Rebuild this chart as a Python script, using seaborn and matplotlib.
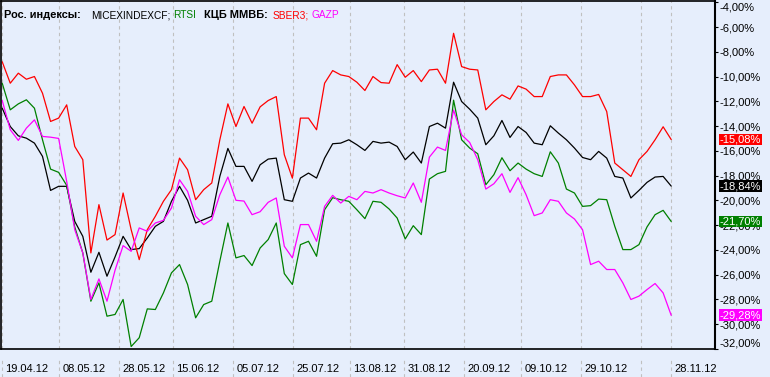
import numpy as np
import pandas as pd
import matplotlib
matplotlib.use("Agg")
import matplotlib.pyplot as plt
import matplotlib.transforms as mtransforms
import seaborn as sns

# daily % change since 19.04.12
start_date = "2012-04-19"
end_date = "2012-11-28"

micex = [-12.55, -14.03, -14.78, -14.97, -15.37, -16.44, -19.19, -18.86, -18.86, -21.69,
         -22.90, -25.80, -24.19, -26.12, -24.56, -22.90, -23.97, -23.89, -23.03, -22.09,
         -21.69, -20.07, -18.86, -19.99, -21.82, -21.55, -21.28, -18.06, -15.80, -17.25,
         -17.25, -18.46, -17.12, -16.66, -16.58, -19.94, -20.07, -18.19, -17.79, -18.19,
         -16.58, -15.42, -15.37, -15.10, -15.50, -15.96, -15.23, -15.37, -15.29, -15.64,
         -16.71, -16.09, -16.98, -14.03, -13.76, -14.16, -10.45, -12.01, -12.63, -13.35,
         -15.50, -14.78, -13.54, -14.91, -14.03, -14.51, -15.37, -15.50, -13.97, -14.56,
         -15.10, -15.77, -16.53, -16.71, -16.04, -16.58, -18.06, -18.19, -19.80, -19.19,
         -18.54, -18.11, -18.06, -18.84]

rtsi = [-10.53, -12.68, -12.20, -11.87, -12.55, -15.10, -17.47, -17.73, -18.78, -22.14,
        -24.24, -28.14, -26.66, -29.35, -29.21, -28.00, -31.80, -31.09, -28.76, -28.81,
        -27.47, -25.85, -25.18, -26.79, -29.48, -28.41, -28.14, -24.91, -21.82, -24.64,
        -24.45, -25.26, -23.84, -23.16, -21.82, -25.91, -26.79, -23.57, -23.30, -24.51,
        -20.75, -19.78, -19.94, -20.07, -20.75, -21.47, -20.07, -20.15, -20.69, -21.42,
        -23.11, -22.04, -22.76, -18.27, -17.84, -17.65, -11.90, -15.10, -15.77, -16.23,
        -18.73, -17.92, -16.55, -17.60, -16.98, -17.47, -17.84, -18.06, -16.07, -16.98,
        -19.08, -19.40, -20.48, -20.42, -19.89, -19.94, -22.09, -23.97, -23.97, -23.57,
        -22.14, -21.15, -20.80, -21.70]

sber = [-8.80, -10.53, -9.72, -10.21, -9.99, -11.34, -13.62, -13.35, -12.28, -15.64,
        -16.71, -24.24, -20.34, -23.20, -22.76, -19.40, -22.36, -24.78, -22.36, -21.28,
        -20.07, -19.13, -16.58, -17.52, -19.94, -19.13, -18.59, -15.10, -12.20, -14.03,
        -12.41, -13.76, -12.44, -11.93, -11.61, -16.31, -18.20, -13.35, -13.35, -14.29,
        -10.53, -9.51, -9.86, -9.99, -10.45, -11.12, -9.99, -10.48, -10.53, -9.03,
        -10.05, -9.51, -10.40, -9.46, -9.40, -10.53, -6.50, -9.19, -9.40, -9.46,
        -12.68, -12.01, -11.47, -11.82, -10.75, -11.01, -11.61, -11.61, -9.99, -9.86,
        -9.86, -10.67, -11.61, -11.61, -11.44, -12.82, -16.98, -17.52, -18.06, -16.71,
        -16.04, -15.10, -14.05, -15.08]

gazp = [-11.93, -14.29, -15.15, -14.16, -13.49, -14.83, -14.89, -14.99, -18.46, -22.36,
        -24.24, -28.00, -26.34, -28.14, -25.64, -23.65, -24.11, -22.22, -22.49, -21.82,
        -21.61, -20.61, -18.33, -19.27, -21.28, -21.95, -21.55, -19.54, -18.11, -19.99,
        -20.05, -21.15, -20.91, -20.15, -19.80, -23.70, -24.64, -21.95, -21.95, -23.30,
        -20.48, -19.59, -20.21, -19.67, -19.94, -19.27, -19.40, -19.13, -19.40, -19.62,
        -19.80, -18.59, -20.15, -16.50, -15.69, -15.96, -12.70, -14.70, -15.32, -16.71,
        -19.08, -18.65, -17.84, -19.35, -18.16, -19.54, -21.23, -21.01, -19.94, -20.07,
        -21.01, -21.50, -22.36, -25.18, -24.91, -25.58, -25.58, -26.66, -28.00, -27.73,
        -27.20, -26.71, -27.47, -29.28]

tick_dates = ["2012-04-19", "2012-05-08", "2012-05-28", "2012-06-15", "2012-07-05",
              "2012-07-25", "2012-08-13", "2012-08-31", "2012-09-20", "2012-10-09",
              "2012-10-29", "2012-11-18", "2012-11-28"]
tick_labels = ["19.04.12", "08.05.12", "28.05.12", "15.06.12", "05.07.12",
               "25.07.12", "13.08.12", "31.08.12", "20.09.12", "09.10.12",
               "29.10.12", "", "28.11.12"]
y_ticks = list(range(-32, -3, 2))

names = ["MICEXINDEXCF", "RTSI", "SBER3", "GAZP"]
colors = {"MICEXINDEXCF": "#000000", "RTSI": "#008000", "SBER3": "#FF0000", "GAZP": "#FF00FF"}
bg = "#E6EEFC"

dates = pd.date_range(start_date, end_date, periods=len(micex))
df = pd.DataFrame({"date": dates, "MICEXINDEXCF": micex, "RTSI": rtsi,
                   "SBER3": sber, "GAZP": gazp})
long_df = df.melt(id_vars="date", var_name="ticker", value_name="pct")

sns.set_style("white")
plt.rcParams["font.family"] = ["Liberation Sans", "DejaVu Sans"]
plt.rcParams["font.size"] = 8

fig = plt.figure(figsize=(7.7, 3.77), dpi=100, facecolor=bg)
ax = fig.add_axes([1 / 770, 28 / 377, 714 / 770, 348 / 377])
ax.set_facecolor(bg)

sns.lineplot(data=long_df, x="date", y="pct", hue="ticker", hue_order=names,
             palette=colors, linewidth=0.9, legend=False, ax=ax)

ax.set_xlim(dates[0] - pd.Timedelta(days=0.4), dates[-1] + pd.Timedelta(days=14.6))
ax.set_ylim(-31.95, -3.89)
ax.set_xlabel("")
ax.set_ylabel("")

# x axis: dashed date grid, labels left-aligned to the lines
tick_pos = pd.to_datetime(tick_dates)
ax.set_xticks(tick_pos, labels=tick_labels)
ax.tick_params(axis="x", length=0, pad=11, labelsize=8, colors="black")
shift = mtransforms.ScaledTranslation(3 / 100, 0, fig.dpi_scale_trans)
for lab in ax.get_xticklabels():
    lab.set_horizontalalignment("left")
    lab.set_transform(lab.get_transform() + shift)
ax.grid(axis="x", color="#C0C0C0", linestyle=(0, (3, 3)), linewidth=0.8)
ax.grid(axis="y", visible=False)
ax.vlines(tick_pos, -0.08, -0.032, transform=ax.get_xaxis_transform(),
          color="#C0C0C0", linestyle=(0, (3, 3)), linewidth=0.8, clip_on=False)

# y axis on the right
ax.yaxis.tick_right()
ax.set_yticks(y_ticks, labels=[f"{v:.2f}".replace(".", ",") + "%" for v in y_ticks])
ax.tick_params(axis="y", direction="out", length=2.4, width=0.8, pad=0.8,
               labelsize=8, colors="black")
ylabs = ax.get_yticklabels()
ylabs[0].set_verticalalignment("bottom")
ylabs[-1].set_verticalalignment("top")

for side in ["left", "top", "bottom"]:
    ax.spines[side].set_color("black")
    ax.spines[side].set_linewidth(1.2)
ax.spines["right"].set_color("black")
ax.spines["right"].set_linewidth(1.5)

# last value markers on the price scale
for name in names:
    last = df[name].iloc[-1]
    ax.annotate(f"{last:.2f}".replace(".", ",") + "%", xy=(1, last),
                xycoords=ax.get_yaxis_transform(), xytext=(3.6, 0),
                textcoords="offset points", ha="left", va="center",
                color="white", fontsize=8, annotation_clip=False,
                bbox=dict(boxstyle="square,pad=0.08", fc=colors[name], ec="none"))

# header legend, pieces placed where the terminal puts them
pieces = [("Рос. индексы:", "black", "bold", 4),
          ("MICEXINDEXCF;", "black", "normal", 91),
          ("RTSI", "#008000", "normal", 173),
          ("КЦБ ММВБ:", "black", "bold", 204),
          ("SBER3;", "#FF0000", "normal", 273),
          ("GAZP", "#FF00FF", "normal", 312)]
for text, col, weight, px in pieces:
    fig.text(px / 770, 1 - 15 / 377, text, color=col, fontweight=weight,
             fontsize=7.9 if weight == "bold" else 7.3, va="center", ha="left")

fig.savefig("out.png", dpi=100, facecolor=bg)
